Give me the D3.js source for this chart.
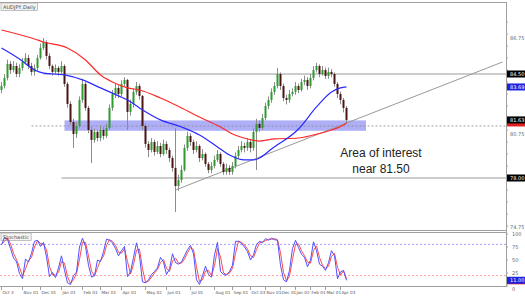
<!DOCTYPE html>
<html>
<head>
<meta charset="utf-8">
<script src="https://cdn.jsdelivr.net/npm/d3@7"></script>
<style>
	body { margin: 0; background: #fff; }
	svg { display: block; font-family: "DejaVu Sans", sans-serif; }
</style>
</head>
<body>
<svg id="chart"></svg>
<script>
// daily closes, highs and lows (price units)
const closes = [83.75,84.25,85.13,84.75,85.00,84.50,84.88,85.25,85.50,85.00,
	84.63,84.88,85.50,86.13,86.50,85.63,85.00,84.63,84.88,84.63,
	85.00,83.88,82.63,81.50,80.75,81.25,82.88,83.88,82.38,81.00,
	80.38,80.88,80.50,81.00,80.63,81.13,82.38,83.25,83.63,83.25,
	83.88,84.13,82.13,82.63,83.38,83.75,83.13,81.25,80.13,79.75,
	80.25,79.63,80.00,79.50,80.13,79.75,79.25,78.63,77.50,77.88,
	78.50,79.88,80.63,80.25,79.75,80.00,79.25,79.50,78.88,78.50,
	78.75,79.13,79.50,78.88,78.38,78.63,78.38,78.75,79.38,79.75,
	80.00,79.88,80.25,79.88,80.88,81.38,81.13,81.75,82.50,82.88,
	83.38,83.75,84.50,83.75,83.00,82.88,83.25,83.38,83.75,83.50,
	84.00,84.13,83.75,84.25,84.75,85.00,84.50,84.75,84.38,84.63,
	84.50,83.88,83.25,82.88,82.38,81.63];
const highs = [84.0,84.5,85.4,85.3,85.3,85.2,85.1,85.5,85.8,85.7,
	85.2,85.1,85.7,86.4,86.75,86.6,85.8,85.1,85.1,85.0,
	85.3,85.1,84.0,82.8,81.7,81.5,83.1,84.2,84.0,82.5,
	81.2,81.1,81.0,81.3,81.2,81.4,82.6,83.5,83.9,83.8,
	84.1,84.3,84.2,82.9,83.6,84.0,83.9,83.2,81.4,80.3,
	80.5,80.4,80.3,80.2,80.4,80.3,79.9,79.4,81.13,78.2,
	78.8,80.1,80.9,80.8,80.4,80.3,80.1,79.8,79.6,79.0,
	79.0,79.4,79.75,79.6,79.0,78.9,78.8,79.0,79.6,80.0,
	80.3,80.2,80.5,80.4,81.1,81.7,81.6,82.0,82.7,83.1,
	83.6,84.0,84.88,84.6,83.9,83.2,83.5,83.6,84.0,83.9,
	84.2,84.4,84.3,84.5,85.0,85.2,85.1,85.0,84.9,84.9,
	84.8,84.6,84.0,83.4,83.0,82.5];
const lows = [83.3,83.6,84.1,84.5,84.6,84.3,84.3,84.7,85.1,84.8,
	84.4,84.4,84.7,85.4,86.0,85.4,84.8,84.4,84.5,84.4,
	84.5,83.7,82.4,81.3,79.88,80.5,81.1,82.7,82.2,80.8,
	78.94,80.2,80.3,80.3,80.4,80.5,81.0,82.2,83.0,83.0,
	83.1,83.7,81.0,81.9,82.4,83.2,82.9,81.0,79.9,79.3,
	79.6,79.4,79.5,79.3,79.4,79.5,79.0,78.4,75.88,77.2,
	77.7,78.4,79.7,80.0,79.5,79.6,79.0,79.1,78.7,78.3,
	78.3,78.6,79.0,78.7,78.2,78.2,78.2,78.2,78.6,79.2,
	79.6,79.6,79.7,79.6,79.7,78.5,80.9,81.0,81.6,82.3,
	82.7,83.2,83.6,83.5,82.8,82.6,82.7,83.1,83.2,83.3,
	83.4,83.8,83.5,83.6,84.1,84.6,84.3,84.4,84.2,84.2,
	84.3,83.7,83.0,82.6,82.1,81.4];
const firstOpen = 83.50;

// moving averages, read at a few bars
const maBlueIdx = [0,6,11,14,21,27,33,39,42,46,53,60,66,72,76,81,84,86,90,99,105,110,113,115];
const maBlue = [86.13,85.44,84.75,84.56,84.44,84.13,83.63,83.13,82.88,82.38,81.63,81.19,
	80.69,79.94,79.44,79.13,79.13,79.25,79.81,81.06,82.44,83.38,83.63,83.69];
const maRedIdx = [0,11,14,22,28,33,37,42,46,53,60,66,73,77,82,86,91,99,104,110,114,115];
const maRed = [87.25,86.69,86.50,86.13,85.38,84.44,84.00,83.63,83.50,83.00,82.38,81.81,
	81.19,80.75,80.44,80.31,80.44,80.50,80.69,81.00,81.31,81.44];

// stochastic %K (blue) and %D (red)
const stochK = [79,93,90,72,54,47,24,14,52,46,63,86,88,76,84,56,18,26,16,35,
	58,30,6,3,20,27,75,92,76,40,17,20,50,47,66,90,88,83,72,58,
	68,76,18,27,55,83,58,8,6,12,22,28,35,55,46,22,33,62,45,42,
	46,58,70,78,62,12,3,20,38,22,17,60,84,28,22,21,28,40,86,86,
	82,75,66,50,60,80,86,83,91,88,92,89,88,40,12,8,30,72,88,74,
	61,55,37,50,85,68,42,38,30,45,68,58,14,27,30,11];
const stochD = [80,86,92,81,63,51,36,19,33,49,55,75,87,82,80,70,37,22,21,26,
	47,44,18,5,12,24,51,84,84,58,29,19,35,49,57,78,89,86,78,65,
	63,72,47,23,41,69,71,33,7,9,17,25,32,45,51,34,28,48,54,44,
	44,52,64,74,70,37,8,12,29,30,20,39,72,56,25,22,25,34,63,86,
	84,79,71,58,55,70,83,85,87,90,90,91,89,64,26,10,19,51,80,81,
	68,58,46,44,68,77,55,40,34,38,57,63,36,21,29,14];
const stochLevels = [80, 20];
const stochTicks = [100, 75, 50, 25, 0];

// drawn levels
const resistance = 84.50, resistanceFrom = 14;
const support = 78.00, supportFrom = 20;
const dottedLevel = 81.25, dottedFrom = 10;
const zoneTop = 81.60, zoneBottom = 80.95, zoneFrom = 21, zoneTo = 121.5;
const trendIdx = [58, 167];
const trendPx = [77.25, 85.25];

const priceTicks = [86.75, 80.75, 74.75];
const dateLabels = ["Oct 3","Nov 01","Dec 01","Jan 01","Feb 01","Mar 01","Apr 01","May 02","Jun 01","Jul 01",
	"Aug 01","Sep 01","Oct 03","Nov 01","Dec 01","Jan 02","Feb 01","Mar 01","Apr 03"];
const dateIdx = [0,7,13,20,27,33,40,48,55,63,71,77,83,88,93,98,103,108,113];

const title = "AUDJPY,Daily";
const note = ["Area of interest", "near 81.50"];

const W = 525, H = 298, axisX = 506;
const svg = d3.select("#chart").attr("width", W).attr("height", H);

const x = d3.scaleLinear().domain([0, 168]).range([1.5, 505.5]);
const y = d3.scaleLinear().domain([74.75, 86.75]).range([230, 38]);
const ys = d3.scaleLinear().domain([0, 100]).range([286, 234]);

svg.append("clipPath").attr("id", "mainclip")
	.append("rect").attr("x", 0).attr("y", 3).attr("width", axisX).attr("height", 227);
const main = svg.append("g").attr("clip-path", "url(#mainclip)");

// blue zone
main.append("rect")
	.attr("x", x(zoneFrom)).attr("width", x(zoneTo) - x(zoneFrom))
	.attr("y", y(zoneTop)).attr("height", y(zoneBottom) - y(zoneTop))
	.attr("fill", "#6e6ef0").attr("fill-opacity", 0.55);

// horizontal levels
main.append("line").attr("x1", x(resistanceFrom)).attr("x2", axisX)
	.attr("y1", y(resistance)).attr("y2", y(resistance))
	.attr("stroke", "#9a9a9a").attr("stroke-width", 1.2);
main.append("line").attr("x1", x(supportFrom)).attr("x2", axisX)
	.attr("y1", y(support)).attr("y2", y(support))
	.attr("stroke", "#9a9a9a").attr("stroke-width", 1.2);
main.append("line").attr("x1", x(dottedFrom)).attr("x2", axisX)
	.attr("y1", y(dottedLevel)).attr("y2", y(dottedLevel))
	.attr("stroke", "#888").attr("stroke-width", 0.8).attr("stroke-dasharray", "2,2");

// trendline
main.append("line")
	.attr("x1", x(trendIdx[0])).attr("y1", y(trendPx[0]))
	.attr("x2", x(trendIdx[1])).attr("y2", y(trendPx[1]))
	.attr("stroke", "#999").attr("stroke-width", 1);

// candles
const bars = closes.map((c, i) => ({
	i: i, o: i == 0 ? firstOpen : closes[i - 1], c: c, h: highs[i], l: lows[i]
}));
main.selectAll(".wick").data(bars).join("line")
	.attr("x1", d => x(d.i)).attr("x2", d => x(d.i))
	.attr("y1", d => y(d.h)).attr("y2", d => y(d.l))
	.attr("stroke", "#8c8c8c").attr("stroke-width", 1);
main.selectAll(".body").data(bars).join("rect")
	.attr("x", d => x(d.i) - 1).attr("width", 2)
	.attr("y", d => y(Math.max(d.o, d.c)))
	.attr("height", d => Math.max(1, Math.abs(y(d.o) - y(d.c))))
	.attr("fill", d => d.c >= d.o ? "#2f9a2f" : "#4a1414");

// moving averages
const maLine = d3.line().x(d => x(d[0])).y(d => y(d[1])).curve(d3.curveMonotoneX);
main.append("path").datum(maRedIdx.map((d, i) => [d, maRed[i]]))
	.attr("d", maLine).attr("fill", "none").attr("stroke", "#ff2a2a").attr("stroke-width", 1.2);
main.append("path").datum(maBlueIdx.map((d, i) => [d, maBlue[i]]))
	.attr("d", maLine).attr("fill", "none").attr("stroke", "#2a2aff").attr("stroke-width", 1.2);

// annotation
svg.append("text").attr("x", 381).attr("y", 157).attr("text-anchor", "middle")
	.attr("font-family", "Liberation Sans, Arial, sans-serif").attr("font-size", 12).attr("fill", "#222")
	.text(note[0]);
svg.append("text").attr("x", 381).attr("y", 173).attr("text-anchor", "middle")
	.attr("font-family", "Liberation Sans, Arial, sans-serif").attr("font-size", 12).attr("fill", "#222")
	.text(note[1]);

// stochastic
const stoch = svg.append("g");
stochLevels.forEach((lv, k) => {
	stoch.append("line").attr("x1", 0).attr("x2", axisX).attr("y1", ys(lv)).attr("y2", ys(lv))
		.attr("stroke", k == 0 ? "#8888ff" : "#ff8888").attr("stroke-width", 0.8)
		.attr("stroke-dasharray", "2,2");
});
const stLine = d3.line().x((d, i) => x(i)).y(d => ys(d));
stoch.append("path").datum(stochD).attr("d", stLine).attr("fill", "none")
	.attr("stroke", "#ff4a4a").attr("stroke-width", 1);
stoch.append("path").datum(stochK).attr("d", stLine).attr("fill", "none")
	.attr("stroke", "#5050ff").attr("stroke-width", 1);

// frames
const frame = "#a0a0a0";
svg.append("line").attr("x1", 0).attr("x2", axisX).attr("y1", 2.5).attr("y2", 2.5).attr("stroke", frame);
svg.append("line").attr("x1", 0).attr("x2", axisX).attr("y1", 230.5).attr("y2", 230.5).attr("stroke", frame);
svg.append("line").attr("x1", 0).attr("x2", axisX).attr("y1", 232.5).attr("y2", 232.5).attr("stroke", frame);
svg.append("line").attr("x1", 0).attr("x2", axisX).attr("y1", 286.5).attr("y2", 286.5).attr("stroke", frame);
svg.append("line").attr("x1", axisX + 0.5).attr("x2", axisX + 0.5).attr("y1", 2).attr("y2", 287).attr("stroke", frame);

// right axis ticks
const minorTicks = d3.range(75, 88.5, 0.75);
svg.selectAll(".mt").data(minorTicks).join("line")
	.attr("x1", axisX).attr("x2", axisX + 2)
	.attr("y1", d => y(d)).attr("y2", d => y(d)).attr("stroke", frame);
svg.selectAll(".pt").data(priceTicks).join("text")
	.attr("x", axisX + 4).attr("y", d => Math.min(y(d) + 2, 229))
	.attr("font-size", 5).attr("fill", "#666").text(d => d.toFixed(2));
// the 0 label sits just under the value box
svg.selectAll(".st").data(stochTicks).join("text")
	.attr("x", axisX + 6).attr("y", d => d > 0 ? ys(d) + 2 : ys(d) + 4.5)
	.attr("font-size", 5).attr("fill", "#666").text(d => d);
svg.selectAll(".stt").data(stochTicks).join("line")
	.attr("x1", axisX).attr("x2", axisX + 2)
	.attr("y1", d => ys(d)).attr("y2", d => ys(d)).attr("stroke", frame);

// value boxes on the axis; a strip is a box hidden under its neighbour
function valueBox(v, sc, bg) {
	svg.append("rect").attr("x", axisX + 1).attr("y", sc(v) - 3.5).attr("width", W - axisX - 1).attr("height", 7).attr("fill", bg);
	svg.append("text").attr("x", axisX + 4).attr("y", sc(v) + 2).attr("font-size", 5).attr("fill", "#fff").text(v.toFixed(2));
}
function valueStrip(v, sc, bg) {
	svg.append("rect").attr("x", axisX + 1).attr("y", sc(v) - 1.5).attr("width", W - axisX - 1).attr("height", 5).attr("fill", bg);
}
valueBox(resistance, y, "#000");
valueBox(maBlue[maBlue.length - 1], y, "#2020e0");
valueStrip(maRed[maRed.length - 1], y, "#e02020");
valueBox(closes[closes.length - 1], y, "#000");
valueBox(support, y, "#000");
valueStrip(stochD[stochD.length - 1] - 4, ys, "#e02020");
valueBox(stochK[stochK.length - 1], ys, "#2020e0");

// date labels
const dl = svg.append("g");
dateIdx.forEach((d, i) => {
	dl.append("line").attr("x1", x(d)).attr("x2", x(d)).attr("y1", 286).attr("y2", 290).attr("stroke", frame);
	dl.append("text").attr("x", x(d) + 1).attr("y", 294).attr("font-size", 4.2).attr("fill", "#555").text(dateLabels[i]);
});

// panel captions
function caption(txt, px, py) {
	const t = svg.append("text").attr("x", px + 2).attr("y", py + 5.5).attr("font-size", 5).attr("fill", "#444").text(txt);
	const bb = t.node().getBBox();
	svg.insert("rect", "text").attr("x", px).attr("y", py).attr("width", bb.width + 4).attr("height", 7.5)
		.attr("fill", "#f4f4f4").attr("stroke", "#999").attr("stroke-width", 0.6);
}
caption(title, 1, 3);
caption("Stochastic", 1, 233);
</script>
</body>
</html>
